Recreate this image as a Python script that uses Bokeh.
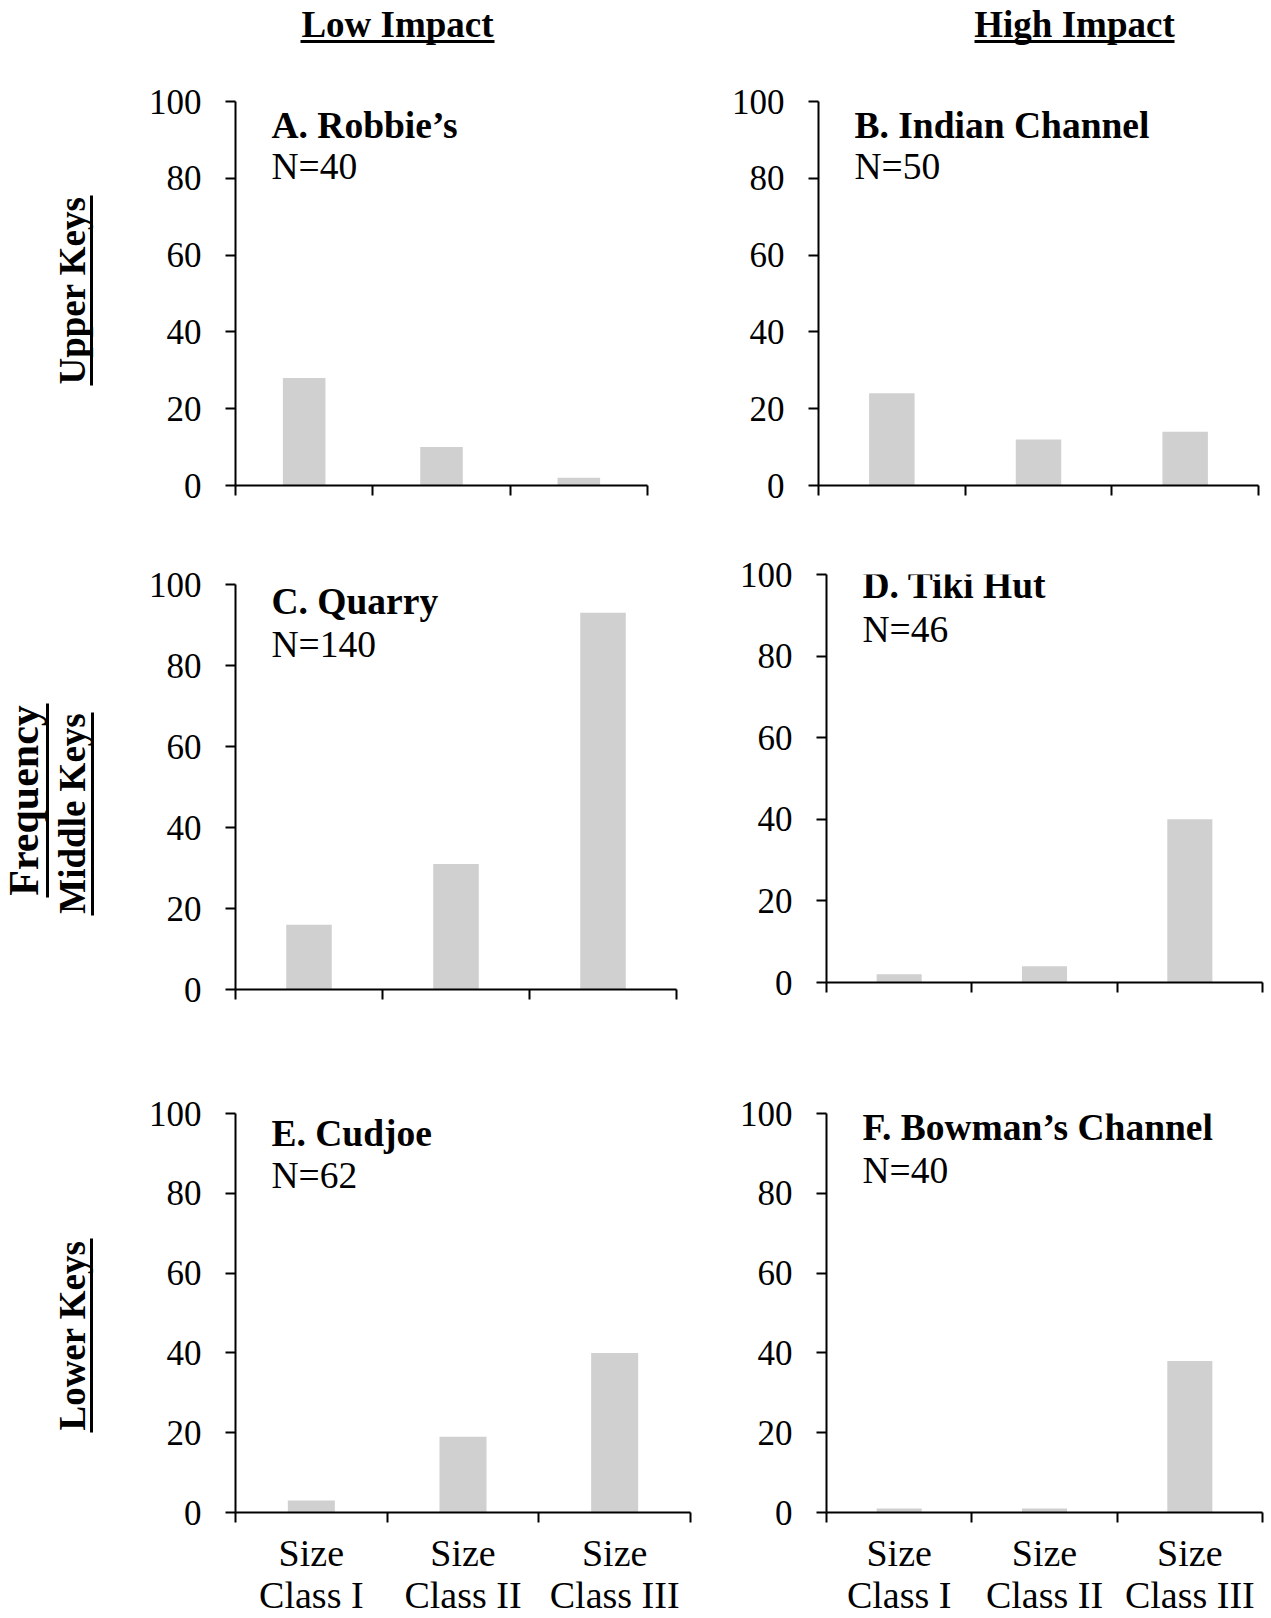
from math import pi
from bokeh.plotting import figure
from bokeh.models import Range1d, FixedTicker, Label, Spacer
from bokeh.layouts import column, row
from bokeh.embed import file_html
from bokeh.resources import INLINE
from bokeh.core.properties import value

# ---------------- data ----------------
categories = ["Size\nClass I", "Size\nClass II", "Size\nClass III"]
col_titles = ["Low Impact", "High Impact"]
row_titles = ["Upper Keys", "Middle Keys", "Lower Keys"]
y_title = "Frequency"
panel_names = ["A. Robbie\u2019s", "B. Indian Channel", "C. Quarry",
               "D. Tiki Hut", "E. Cudjoe", "F. Bowman\u2019s Channel"]
panel_n = [40, 50, 140, 46, 62, 40]
robbies = [28, 10, 2]
indian_channel = [24, 12, 14]
quarry = [16, 31, 93]
tiki_hut = [2, 4, 40]
cudjoe = [3, 19, 40]
bowmans_channel = [1, 1, 38]
y_ticks = [0, 20, 40, 60, 80, 100]

FONT = "Liberation Serif"
BAR = "#D0D0D0"
PAGE_H = 1618
TOP_H = 70


def panel(vals, name, n, width, height, bl, br, bt, bb, show_labels, t_dy, n_dy):
    p = figure(width=width, height=height, x_range=Range1d(0, len(vals)),
               y_range=Range1d(y_ticks[0], y_ticks[-1]),
               output_backend="svg", toolbar_location=None,
               min_border_left=bl, min_border_right=br,
               min_border_top=bt, min_border_bottom=bb)
    p.outline_line_color = None
    p.grid.visible = False
    p.background_fill_color = "white"
    p.border_fill_color = "white"
    xs = [i + 0.5 for i in range(len(vals))]
    p.vbar(x=xs, top=vals, bottom=0, width=0.31, fill_color=BAR, line_color=None)

    yax = p.yaxis[0]
    yax.ticker = FixedTicker(ticks=y_ticks)
    yax.axis_line_width = 2
    yax.axis_line_color = "black"
    yax.major_tick_out = 10
    yax.major_tick_in = 0
    yax.major_tick_line_width = 2
    yax.major_tick_line_color = "black"
    yax.minor_tick_line_color = None
    yax.major_label_text_font = FONT
    yax.major_label_text_font_size = "35px"
    yax.major_label_text_color = "black"
    yax.major_label_standoff = 24

    xax = p.xaxis[0]
    xax.ticker = FixedTicker(ticks=xs, minor_ticks=[float(i) for i in range(len(vals) + 1)])
    xax.axis_line_width = 2
    xax.axis_line_color = "black"
    xax.major_tick_line_color = None
    xax.minor_tick_out = 10
    xax.minor_tick_in = 0
    xax.minor_tick_line_width = 2
    xax.minor_tick_line_color = "black"
    xax.major_label_text_font = FONT
    xax.major_label_text_font_size = "38px"
    xax.major_label_text_line_height = 1.0
    xax.major_label_text_color = "black"
    xax.major_label_standoff = 9
    if show_labels:
        xax.major_label_overrides = {x: c for x, c in zip(xs, categories)}
    else:
        xax.major_label_overrides = {x: "" for x in xs}

    p.add_layout(Label(x=0, y=y_ticks[-1], x_offset=36, y_offset=-t_dy, text=name,
                       text_font=FONT, text_font_style="bold", text_font_size="37.5px",
                       text_color="black", text_baseline="alphabetic", text_align="left"))
    p.add_layout(Label(x=0, y=y_ticks[-1], x_offset=36, y_offset=-n_dy, text="N=%d" % n,
                       text_font=FONT, text_font_size="37.5px",
                       text_color="black", text_baseline="alphabetic", text_align="left"))
    return p


# ----- column titles strip -----
tf = figure(width=1271, height=TOP_H, x_range=Range1d(0, 1271), y_range=Range1d(0, TOP_H),
            output_backend="svg", toolbar_location=None, min_border=0,
            x_axis_location=None, y_axis_location=None)
tf.outline_line_color = None
tf.grid.visible = False
tf.text(x=[397, 1074], y=[TOP_H - 24, TOP_H - 24], text=col_titles, text_font=value(FONT),
        text_font_style="bold", text_font_size="37px", text_align="center",
        text_baseline="alphabetic", text_color="black")
tf.segment(x0=[300, 974], y0=[TOP_H - 41, TOP_H - 41], x1=[494, 1174], y1=[TOP_H - 41, TOP_H - 41],
           line_width=3, line_color="black")

# ----- row titles strip -----
H2 = PAGE_H - TOP_H
lf = figure(width=110, height=H2, x_range=Range1d(0, 110), y_range=Range1d(0, H2),
            output_backend="svg", toolbar_location=None, min_border=0,
            x_axis_location=None, y_axis_location=None)
lf.outline_line_color = None
lf.grid.visible = False
row_y = [290, 813, 1335]
lf.text(x=[72, 72, 72], y=[PAGE_H - v for v in row_y], text=row_titles,
        angle=pi / 2, text_font=value(FONT), text_font_style="bold",
        text_font_size="37px", text_align="center", text_baseline="alphabetic",
        text_color="black")
lf.text(x=[23], y=[PAGE_H - 800], text=[y_title], angle=pi / 2, text_font=value(FONT),
        text_font_style="bold", text_font_size="42px", text_align="center",
        text_baseline="alphabetic", text_color="black")
ul_x = [91, 47, 92, 91]
ul_a = [195, 703, 712, 1238]
ul_b = [385, 897, 915, 1432]
lf.segment(x0=ul_x, y0=[PAGE_H - v for v in ul_a], x1=ul_x, y1=[PAGE_H - v for v in ul_b],
           line_width=3, line_color="black")

# row 1: page y 70..530, frames 101..485
pA = panel(robbies, panel_names[0], panel_n[0], 590, 460, 125, 53, 31, 45, False, 23.6, 64.6)
pB = panel(indian_channel, panel_names[1], panel_n[1], 571, 460, 118, 13, 31, 45, False, 23.6, 64.6)
# row 2: page y 530..1035; C frame 584..989, D frame 574..982
pC = panel(quarry, panel_names[2], panel_n[2], 590, 495, 125, 24, 44, 46, False, 16.6, 59.6)
pD = panel(tiki_hut, panel_names[3], panel_n[3], 571, 498, 126, 9, 44, 46, False, 10.6, 54.7)
# row 3: page y 1035..1618; frames 1113..1513
pE = panel(cudjoe, panel_names[4], panel_n[4], 590, 583, 125, 10, 78, 105, True, 19.6, 61.6)
pF = panel(bowmans_channel, panel_names[5], panel_n[5], 571, 583, 126, 9, 78, 105, True, 13.6, 56.6)

grid = column(
    row(pA, pB),
    row(column(Spacer(width=590, height=10), pC), column(pD)),
    row(pE, pF),
)
layout = column(tf, row(lf, grid))

open("out.html", "w").write(file_html(layout, INLINE))
